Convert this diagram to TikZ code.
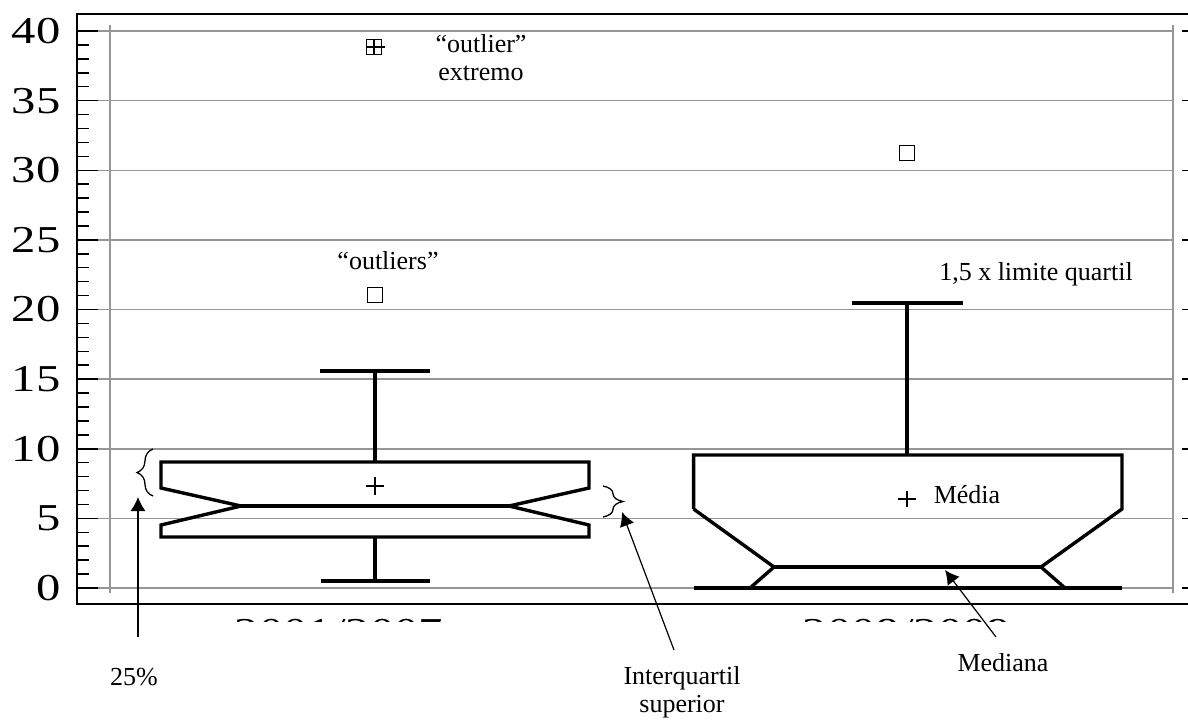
\documentclass[tikz,border=0pt]{standalone}
\usepackage{fontspec}
\setmainfont{Liberation Serif}
\newfontfamily\axisfont[FakeStretch=1.28]{Liberation Serif}
\usepackage{tikz}
\usetikzlibrary{arrows.meta,decorations.pathreplacing}
\definecolor{gridgray}{RGB}{150,150,150}

\begin{document}
\begin{tikzpicture}[
  x=0.5pt, y=-0.5pt,
  font=\fontsize{13}{14}\selectfont,
  frameline/.style={line width=0.85pt},
  gridline/.style={gridgray, line width=0.75pt},
  tickline/.style={line width=0.75pt},
  ticklabel/.style={font=\axisfont\fontsize{19}{20}\selectfont, inner sep=0pt},
  boxline/.style={line width=1.7pt, line join=miter},
  markline/.style={line width=0.65pt},
  outlier/.style={draw, line width=0.65pt, minimum size=7.5pt, inner sep=0pt},
  note/.style={align=center, inner sep=1pt},
  arrow/.style={-{Latex[length=7pt,width=7.5pt]}, line width=0.6pt},
  bracemark/.style={decorate, decoration={brace, amplitude=#1}, line width=0.65pt}
]
\useasboundingbox (0,0) rectangle (1188,723);

% grid, ticks and frame
\draw[gridline] (110,25) -- (110,593);
\draw[gridline] (1173,25) -- (1173,593);
\foreach \v in {0,5,...,40}{
  \draw[gridline] (98,{588-\v*13.925}) -- (1173,{588-\v*13.925});
  \draw[tickline] (77,{588-\v*13.925}) -- (98,{588-\v*13.925});
  \draw[tickline] (1182,{588-\v*13.925}) -- (1188,{588-\v*13.925});
  \node[ticklabel, anchor=east] (lab\v) at (61,{588-\v*13.925}) {\v};
}
\foreach \v in {0,...,40}
  \draw[tickline] (77,{588-\v*13.925}) -- (89,{588-\v*13.925});
\draw[frameline] (1188,14) -- (77,14) -- (77,604) -- (1188,604);

\begin{scope}
  \clip (77,606) rectangle (1188,621);
  \node[ticklabel, anchor=base] (year1) at (339,644) {2001/2007};
  \node[ticklabel, anchor=base] (year2) at (907,644) {2008/2009};
\end{scope}

% box 2001/2007
\draw[boxline] (161,462) -- (589,462) -- (589,488) -- (509,506) -- (589,525) -- (589,537)
  -- (161,537) -- (161,525) -- (241,506) -- (161,488) -- cycle;
\draw[boxline] (241,506) -- (509,506);
\draw[boxline] (375,462) -- (375,371);
\draw[boxline] (320,371) -- (430,371);
\draw[boxline] (375,537) -- (375,581);
\draw[boxline] (321,581) -- (430,581);
\draw[markline] (366,486) -- (384,486) (375,477) -- (375,495);

% box 2008/2009
\draw[boxline] (693.6,509) -- (693.6,455) -- (1122,455) -- (1122,509) -- (1041,567) -- (1065,588);
\draw[boxline] (693.6,509) -- (774,567) -- (750,588);
\draw[boxline] (774,567) -- (1041,567);
\draw[boxline] (693.6,588) -- (1122,588);
\draw[boxline] (907,455) -- (907,303);
\draw[boxline] (852,303) -- (963,303);
\draw[markline] (898,499) -- (916,499) (907,491) -- (907,507);

% outliers
\node[outlier] (extreme) at (374,47) {};
\draw[markline] (extreme.north) -- (extreme.south) (extreme.west) -- ([xshift=1.5pt]extreme.east);
\node[outlier] (out1) at (375,295) {};
\node[outlier] (out2) at (907,153) {};

% annotations
\node[note] (extremeLabel) at (481,58) {``outlier''\\extremo};
\node[note] (outLabel) at (388,261) {``outliers''};
\node[note] (limitLabel) at (1036,274) {1,5 x limite quartil};
\node[note] (meanLabel) at (967,495) {Média};
\node[note] (q1Label) at (134,677) {25\%};
\node[note] (iqLabel) at (682,692) {Interquartil\\superior};
\node[note] (medLabel) at (1003,663) {Mediana};

\draw[bracemark=8pt] (153,496) -- (153,449);
\draw[bracemark=10pt] (603,486) -- (603,517);

\coordinate (q1Tail) at (138,637);
\coordinate (q1Tip) at (138,497);
\coordinate (iqTail) at (674,650);
\coordinate (iqTip) at (622,512);
\coordinate (medTail) at (996,637);
\coordinate (medTip) at (945,570);
\draw[arrow] (q1Tail) -- (q1Tip);
\draw[arrow] (iqTail) -- (iqTip);
\draw[arrow] (medTail) -- (medTip);
\end{tikzpicture}
\end{document}
